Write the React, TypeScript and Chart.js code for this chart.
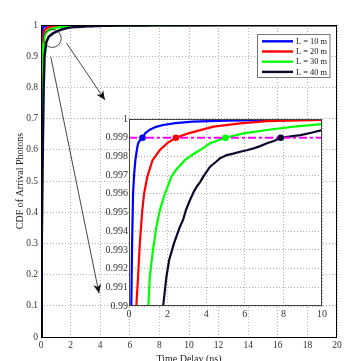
import React, { useEffect, useRef } from "react";
import { Chart, registerables } from "chart.js";

Chart.register(...registerables);

// ---------- data ----------
const seriesLabels = ["L = 10 m", "L = 20 m", "L = 30 m", "L = 40 m"];
const seriesColors = ["#0000ff", "#ff0000", "#00ff00", "#0a0a2e"];

const L10: number[][] = [
  [0, 0], [0.02, 0.6], [0.04, 0.92], [0.07, 0.97], [0.1, 0.985], [0.12, 0.99],
  [0.16, 0.9933], [0.21, 0.996], [0.27, 0.9971], [0.33, 0.9978], [0.4, 0.9983],
  [0.47, 0.9987], [0.58, 0.99888], [0.7, 0.999], [0.85, 0.99925], [1.08, 0.99943],
  [1.4, 0.99958], [1.77, 0.99968], [2.4, 0.99978], [3.3, 0.99986], [5, 0.99991],
  [7, 0.99994], [10, 0.99996], [20, 1],
];
const L20: number[][] = [
  [0, 0], [0.03, 0.4], [0.06, 0.75], [0.09, 0.9], [0.13, 0.95], [0.2, 0.975],
  [0.28, 0.985], [0.38, 0.99], [0.47, 0.99157], [0.56, 0.99335], [0.69, 0.99513],
  [0.78, 0.996], [0.95, 0.99692], [1.22, 0.9978], [1.6, 0.99834], [2.0, 0.99872],
  [2.43, 0.999], [3.07, 0.99923], [4.38, 0.99959], [5.76, 0.99977], [7.15, 0.99989],
  [10, 0.99995], [20, 1],
];
const L30: number[][] = [
  [0, 0], [0.03, 0.3], [0.07, 0.6], [0.11, 0.85], [0.16, 0.93], [0.22, 0.96],
  [0.32, 0.975], [0.47, 0.982], [0.7, 0.987], [1.0, 0.99], [1.08, 0.99157],
  [1.22, 0.99282], [1.42, 0.99424], [1.6, 0.99513], [1.86, 0.996], [2.2, 0.99692],
  [2.43, 0.99727], [2.9, 0.9978], [3.3, 0.9981], [3.68, 0.99834], [4.2, 0.9987],
  [5.0, 0.999], [5.94, 0.99923], [7.15, 0.99941], [8.54, 0.99959], [10, 0.99973],
  [12, 0.99985], [15, 0.99993], [20, 0.99998],
];
const L40: number[][] = [
  [0, 0], [0.05, 0.3], [0.12, 0.6], [0.18, 0.8], [0.24, 0.9], [0.36, 0.945],
  [0.52, 0.962], [0.8, 0.973], [1.15, 0.981], [1.5, 0.987], [1.77, 0.99],
  [1.94, 0.99157], [2.08, 0.99246], [2.33, 0.99335], [2.45, 0.9937], [2.64, 0.99424],
  [2.8, 0.9946], [2.95, 0.99513], [3.16, 0.99567], [3.35, 0.9961], [3.51, 0.99638],
  [3.7, 0.99665], [3.85, 0.99692], [4.2, 0.99745], [4.5, 0.9977], [4.72, 0.9979],
  [5.07, 0.99807], [5.4, 0.99815], [5.76, 0.99825], [6.1, 0.99833], [6.46, 0.99843],
  [6.8, 0.99855], [7.15, 0.9987], [7.5, 0.99882], [7.86, 0.999], [8.4, 0.99907],
  [8.89, 0.99914], [9.5, 0.99928], [10, 0.99941], [12, 0.99965], [15, 0.99985],
  [20, 0.99996],
];
const allSeries = [L10, L20, L30, L40];

const threshold = 0.999;
const crossingX = [0.7, 2.43, 5.0, 7.86];

const mainXTicks = { min: 0, max: 20, step: 2 };
const mainYTicks = { min: 0, max: 1, step: 0.1 };
const insetXTicks = { min: 0, max: 10, step: 2 };
const insetYTicks = { min: 0.99, max: 1, step: 0.001 };

// annotation (data coordinates in main axes)
const zoomCircle = { x: 0.76, y: 0.957 };
const arrowStarts = [[1.74, 0.941], [0.66, 0.898]];
const arrowEnds = [[4.32, 0.76], [3.92, 0.14]];

const SERIF = "'Liberation Serif', 'Times New Roman', serif";

function toXY(arr: number[][]) {
  return arr.map(([x, y]) => ({ x, y }));
}

function fmt(v: any, digits: number) {
  let s = Number(v).toFixed(digits);
  if (s.indexOf(".") >= 0) s = s.replace(/0+$/, "").replace(/\.$/, "");
  return s;
}

function drawArrowHead(ctx: CanvasRenderingContext2D, x0: number, y0: number, x1: number, y1: number) {
  const ang = Math.atan2(y1 - y0, x1 - x0);
  const len = 9, half = 4, back = 6.5;
  ctx.save();
  ctx.translate(x1, y1);
  ctx.rotate(ang);
  ctx.beginPath();
  ctx.moveTo(0, 0);
  ctx.lineTo(-len, -half);
  ctx.lineTo(-back, 0);
  ctx.lineTo(-len, half);
  ctx.closePath();
  ctx.fillStyle = "#111";
  ctx.fill();
  ctx.restore();
}

const mainDecor = {
  id: "mainDecor",
  afterDatasetsDraw(chart: any) {
    const { ctx, chartArea, scales } = chart;
    const xs = scales.x, ys = scales.y;
    ctx.save();
    // box
    ctx.strokeStyle = "#000";
    ctx.lineWidth = 1;
    ctx.strokeRect(chartArea.left + 0.5, chartArea.top + 0.5, chartArea.right - chartArea.left - 1, chartArea.bottom - chartArea.top);
    // circle
    ctx.strokeStyle = "#333";
    ctx.lineWidth = 0.9;
    ctx.beginPath();
    ctx.arc(xs.getPixelForValue(zoomCircle.x), ys.getPixelForValue(zoomCircle.y), 9, 0, Math.PI * 2);
    ctx.stroke();
    // arrows
    for (let i = 0; i < arrowStarts.length; i++) {
      const x0 = xs.getPixelForValue(arrowStarts[i][0]);
      const y0 = ys.getPixelForValue(arrowStarts[i][1]);
      const x1 = xs.getPixelForValue(arrowEnds[i][0]);
      const y1 = ys.getPixelForValue(arrowEnds[i][1]);
      ctx.strokeStyle = "#333";
      ctx.lineWidth = 0.9;
      ctx.beginPath();
      ctx.moveTo(x0, y0);
      ctx.lineTo(x1, y1);
      ctx.stroke();
      drawArrowHead(ctx, x0, y0, x1, y1);
    }
    // legend
    const lx = chartArea.right - 80, ly = chartArea.top + 9;
    const lw = 72.5, lh = 43;
    ctx.fillStyle = "#fff";
    ctx.fillRect(lx, ly, lw, lh);
    ctx.strokeStyle = "#777";
    ctx.lineWidth = 1;
    ctx.strokeRect(lx + 0.5, ly + 0.5, lw, lh);
    ctx.font = `8.4px ${SERIF}`;
    ctx.textBaseline = "middle";
    ctx.textAlign = "left";
    chart.data.datasets.forEach((ds: any, i: number) => {
      const ry = ly + 7.3 + i * 10.2;
      ctx.strokeStyle = ds.borderColor;
      ctx.lineWidth = 2.4;
      ctx.beginPath();
      ctx.moveTo(lx + 5, ry);
      ctx.lineTo(lx + 36, ry);
      ctx.stroke();
      ctx.fillStyle = "#111";
      ctx.fillText(ds.label, lx + 39, ry + 0.5);
    });
    ctx.restore();
  },
};

const insetDecor = {
  id: "insetDecor",
  beforeDraw(chart: any) {
    const { ctx, chartArea } = chart;
    ctx.save();
    ctx.fillStyle = "#fff";
    ctx.fillRect(chartArea.left, chartArea.top, chartArea.right - chartArea.left, chartArea.bottom - chartArea.top);
    ctx.restore();
  },
  afterDraw(chart: any) {
    const { ctx, chartArea } = chart;
    ctx.save();
    ctx.strokeStyle = "#444";
    ctx.lineWidth = 1;
    ctx.strokeRect(chartArea.left + 0.5, chartArea.top + 0.5, chartArea.right - chartArea.left - 1, chartArea.bottom - chartArea.top - 1);
    ctx.restore();
  },
};

const gridColor = "rgba(0,0,0,0.3)";

export default function App() {
  const mainRef = useRef<HTMLCanvasElement>(null);
  const insetRef = useRef<HTMLCanvasElement>(null);

  useEffect(() => {
    const lineDatasets = (width: number) =>
      allSeries.map((s, i) => ({
        type: "line" as const,
        label: seriesLabels[i],
        data: toXY(s),
        borderColor: seriesColors[i],
        backgroundColor: seriesColors[i],
        borderWidth: width,
        pointRadius: 0,
        tension: 0,
        fill: false,
        order: 10 - i,
      }));

    const main = new Chart(mainRef.current!, {
      type: "line",
      data: { datasets: lineDatasets(2.5) },
      options: {
        animation: false,
        responsive: false,
        events: [],
        layout: { padding: { left: 0, right: 22, top: 25, bottom: 0 } },
        plugins: { legend: { display: false }, tooltip: { enabled: false } },
        scales: {
          x: {
            type: "linear",
            min: mainXTicks.min,
            max: mainXTicks.max,
            afterFit: (s: any) => { s.height = 24; },
            ticks: { stepSize: mainXTicks.step, font: { family: SERIF, size: 9.5 }, color: "#333", padding: 2.5, maxRotation: 0, callback: (v: any) => fmt(v, 0) },
            grid: { color: gridColor, drawTicks: false, lineWidth: 1 },
            border: { display: false, dash: [1, 2] },
            title: { display: true, text: "Time Delay (ns)", font: { family: SERIF, size: 10 }, color: "#222", padding: { top: 0, bottom: -4 } },
          },
          y: {
            type: "linear",
            min: mainYTicks.min,
            max: mainYTicks.max,
            afterFit: (s: any) => { s.width = 41; },
            ticks: { stepSize: mainYTicks.step, font: { family: SERIF, size: 9.5 }, color: "#333", padding: 3, callback: (v: any) => fmt(v, 1) },
            grid: { color: gridColor, drawTicks: false, lineWidth: 1 },
            border: { display: false, dash: [1, 2] },
            title: { display: true, text: "CDF of Arrival Photons", font: { family: SERIF, size: 10 }, color: "#222", padding: { top: 14, bottom: 0 } },
          },
        },
      },
      plugins: [mainDecor],
    });

    const insetDatasets: any[] = lineDatasets(2.2);
    insetDatasets.push({
      type: "line",
      label: "threshold",
      data: [{ x: insetXTicks.min, y: threshold }, { x: insetXTicks.max, y: threshold }],
      borderColor: "#ff00ff",
      borderWidth: 2,
      borderDash: [8, 3, 3, 3],
      pointRadius: 0,
      order: 1,
    });
    insetDatasets.push({
      type: "scatter",
      label: "crossings",
      data: crossingX.map((x) => ({ x, y: threshold })),
      pointBackgroundColor: seriesColors,
      pointBorderColor: seriesColors,
      pointRadius: 3.3,
      pointBorderWidth: 0,
      showLine: false,
      order: 0,
    });

    const inset = new Chart(insetRef.current!, {
      type: "line",
      data: { datasets: insetDatasets },
      options: {
        animation: false,
        responsive: false,
        events: [],
        layout: { padding: { left: 0, right: 8, top: 7, bottom: 0 } },
        plugins: { legend: { display: false }, tooltip: { enabled: false } },
        scales: {
          x: {
            type: "linear",
            min: insetXTicks.min,
            max: insetXTicks.max,
            afterFit: (s: any) => { s.height = 18; },
            ticks: { stepSize: insetXTicks.step, font: { family: SERIF, size: 10 }, color: "#333", padding: 2, maxRotation: 0, callback: (v: any) => fmt(v, 0) },
            grid: { color: gridColor, drawTicks: false, lineWidth: 1 },
            border: { display: false, dash: [1, 2] },
          },
          y: {
            type: "linear",
            min: insetYTicks.min,
            max: insetYTicks.max,
            afterFit: (s: any) => { s.width = 29; },
            ticks: {
              stepSize: insetYTicks.step,
              font: { family: SERIF, size: 10 },
              color: "#333",
              padding: 1,
              callback: (v: any) => fmt(v, 3),
            },
            grid: { color: gridColor, drawTicks: false, lineWidth: 1 },
            border: { display: false, dash: [1, 2] },
          },
        },
      },
      plugins: [insetDecor],
    });

    return () => {
      main.destroy();
      inset.destroy();
    };
  }, []);

  return (
    <div style={{ position: "fixed", left: 0, top: 0, width: 359, height: 361, background: "#fff", overflow: "hidden" }}>
      <canvas ref={mainRef} width={359} height={361} style={{ position: "absolute", left: 0, top: 0, width: 359, height: 361 }} />
      <canvas ref={insetRef} width={230} height={212} style={{ position: "absolute", left: 100, top: 112, width: 230, height: 212 }} />
    </div>
  );
}
